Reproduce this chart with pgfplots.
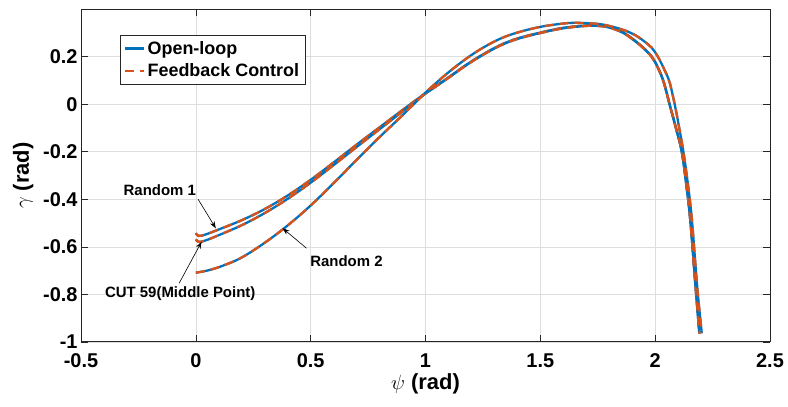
\documentclass[border=0pt]{standalone}
\usepackage{pgfplots}
\pgfplotsset{compat=1.18}
\usepackage{pgfplotstable}
\usepackage{fontspec}
\setmainfont{Liberation Sans}
\usetikzlibrary{arrows.meta}
\definecolor{mblue}{rgb}{0,0.447,0.741}
\definecolor{morange}{rgb}{0.85,0.325,0.098}
\definecolor{axgray}{rgb}{0.15,0.15,0.15}
\definecolor{gridgray}{rgb}{0.87,0.87,0.87}

% Random 1
\pgfplotstableread{
x y
0.000 -0.543
0.012 -0.554
0.040 -0.549
0.100 -0.527
0.200 -0.488
0.300 -0.441
0.400 -0.384
0.500 -0.318
0.600 -0.245
0.700 -0.170
0.800 -0.097
0.900 -0.024
0.990 0.040
1.050 0.080
1.107 0.118
1.180 0.168
1.250 0.210
1.325 0.249
1.400 0.277
1.500 0.302
1.600 0.322
1.700 0.332
1.750 0.332
1.800 0.325
1.862 0.302
1.920 0.262
1.950 0.237
1.986 0.200
2.012 0.155
2.037 0.095
2.063 0.000
2.091 -0.101
2.116 -0.200
2.136 -0.340
2.153 -0.487
2.176 -0.768
2.192 -0.964
}\curveA

% CUT 59 (middle point)
\pgfplotstableread{
x y
0.000 -0.569
0.012 -0.579
0.040 -0.574
0.100 -0.551
0.200 -0.509
0.300 -0.458
0.400 -0.398
0.500 -0.330
0.600 -0.256
0.700 -0.180
0.800 -0.105
0.900 -0.030
0.990 0.038
1.050 0.078
1.107 0.116
1.180 0.166
1.250 0.208
1.325 0.247
1.400 0.275
1.500 0.300
1.600 0.320
1.700 0.330
1.750 0.330
1.800 0.323
1.862 0.300
1.920 0.260
1.950 0.235
1.986 0.198
2.012 0.153
2.037 0.093
2.063 -0.002
2.091 -0.103
2.116 -0.202
2.136 -0.342
2.153 -0.489
2.176 -0.770
2.193 -0.966
}\curveB

% Random 2
\pgfplotstableread{
x y
0.000 -0.709
0.030 -0.704
0.070 -0.695
0.130 -0.675
0.200 -0.645
0.300 -0.583
0.400 -0.510
0.500 -0.426
0.600 -0.332
0.700 -0.234
0.800 -0.138
0.900 -0.046
0.990 0.040
1.050 0.093
1.107 0.140
1.180 0.194
1.250 0.238
1.325 0.276
1.400 0.302
1.500 0.326
1.600 0.340
1.660 0.343
1.746 0.339
1.800 0.330
1.862 0.313
1.910 0.293
1.950 0.267
1.985 0.238
2.012 0.200
2.038 0.150
2.062 0.095
2.085 0.000
2.105 -0.101
2.123 -0.200
2.143 -0.340
2.160 -0.487
2.183 -0.768
2.203 -0.964
}\curveC

\begin{document}
\begin{tikzpicture}
\begin{axis}[
  scale only axis, width=689bp, height=332.5bp,
  xmin=-0.5, xmax=2.5, ymin=-1, ymax=0.4,
  xtick={-0.5,0,0.5,1,1.5,2,2.5},
  ytick={-1,-0.8,-0.6,-0.4,-0.2,0,0.2},
  /pgf/number format/assume math mode=true,
  tick label style={font=\fontsize{20}{20}\selectfont\bfseries},
  xticklabel style={yshift=-8bp},
  label style={font=\fontsize{22}{22}\selectfont\bfseries},
  xlabel={$\psi$ (rad)},
  ylabel={$\gamma$ (rad)},
  xlabel style={yshift=1bp},
  ylabel style={yshift=3bp},
  tick align=inside, major tick length=7bp,
  every tick/.style={axgray, line width=0.6bp},
  axis line style={axgray, line width=0.8bp},
  grid=major,
  major grid style={gridgray, line width=0.6bp},
  clip=false,
  legend style={at={(0.0566,0.923)}, anchor=north west, draw=axgray, line width=0.7bp,
    font=\fontsize{18}{18}\selectfont\bfseries, inner xsep=4bp, inner ysep=4bp,
    row sep=4bp, cells={anchor=west}},
  legend cell align=left,
  legend image code/.code={\draw[#1] (0bp,0bp) -- (19bp,0bp);},
]
\addplot[mblue, line width=2.3bp, smooth, tension=0.6] table {\curveA};
\addlegendentry{Open-loop}
\addplot[morange, line width=2.3bp, smooth, tension=0.6, dash pattern=on 9bp off 6bp] table {\curveA};
\addlegendentry{Feedback Control}
\addplot[mblue, line width=2.3bp, smooth, tension=0.6, forget plot] table {\curveB};
\addplot[morange, line width=2.3bp, smooth, tension=0.6, dash pattern=on 9bp off 6bp, forget plot] table {\curveB};
\addplot[mblue, line width=2.3bp, smooth, tension=0.6, forget plot] table {\curveC};
\addplot[morange, line width=2.3bp, smooth, tension=0.6, dash pattern=on 9bp off 6bp, forget plot] table {\curveC};

\node[font=\fontsize{15}{15}\selectfont\bfseries] at (axis cs:-0.157,-0.361) {Random 1};
\draw[-{Stealth[length=7bp,width=5bp]}, line width=0.6bp] (axis cs:0.010,-0.400) -- (axis cs:0.087,-0.522);
\node[font=\fontsize{15}{15}\selectfont\bfseries] at (axis cs:-0.068,-0.799) {CUT 59(Middle Point)};
\draw[-{Stealth[length=7bp,width=5bp]}, line width=0.6bp] (axis cs:-0.073,-0.754) -- (axis cs:0.025,-0.579);
\node[font=\fontsize{15}{15}\selectfont\bfseries] at (axis cs:0.656,-0.660) {Random 2};
\draw[-{Stealth[length=7bp,width=5bp]}, line width=0.6bp] (axis cs:0.482,-0.606) -- (axis cs:0.378,-0.522);
\end{axis}
\path (current axis.south west) ++(-81bp,-65.2bp) rectangle ++(788bp,407bp);
\end{tikzpicture}
\end{document}
